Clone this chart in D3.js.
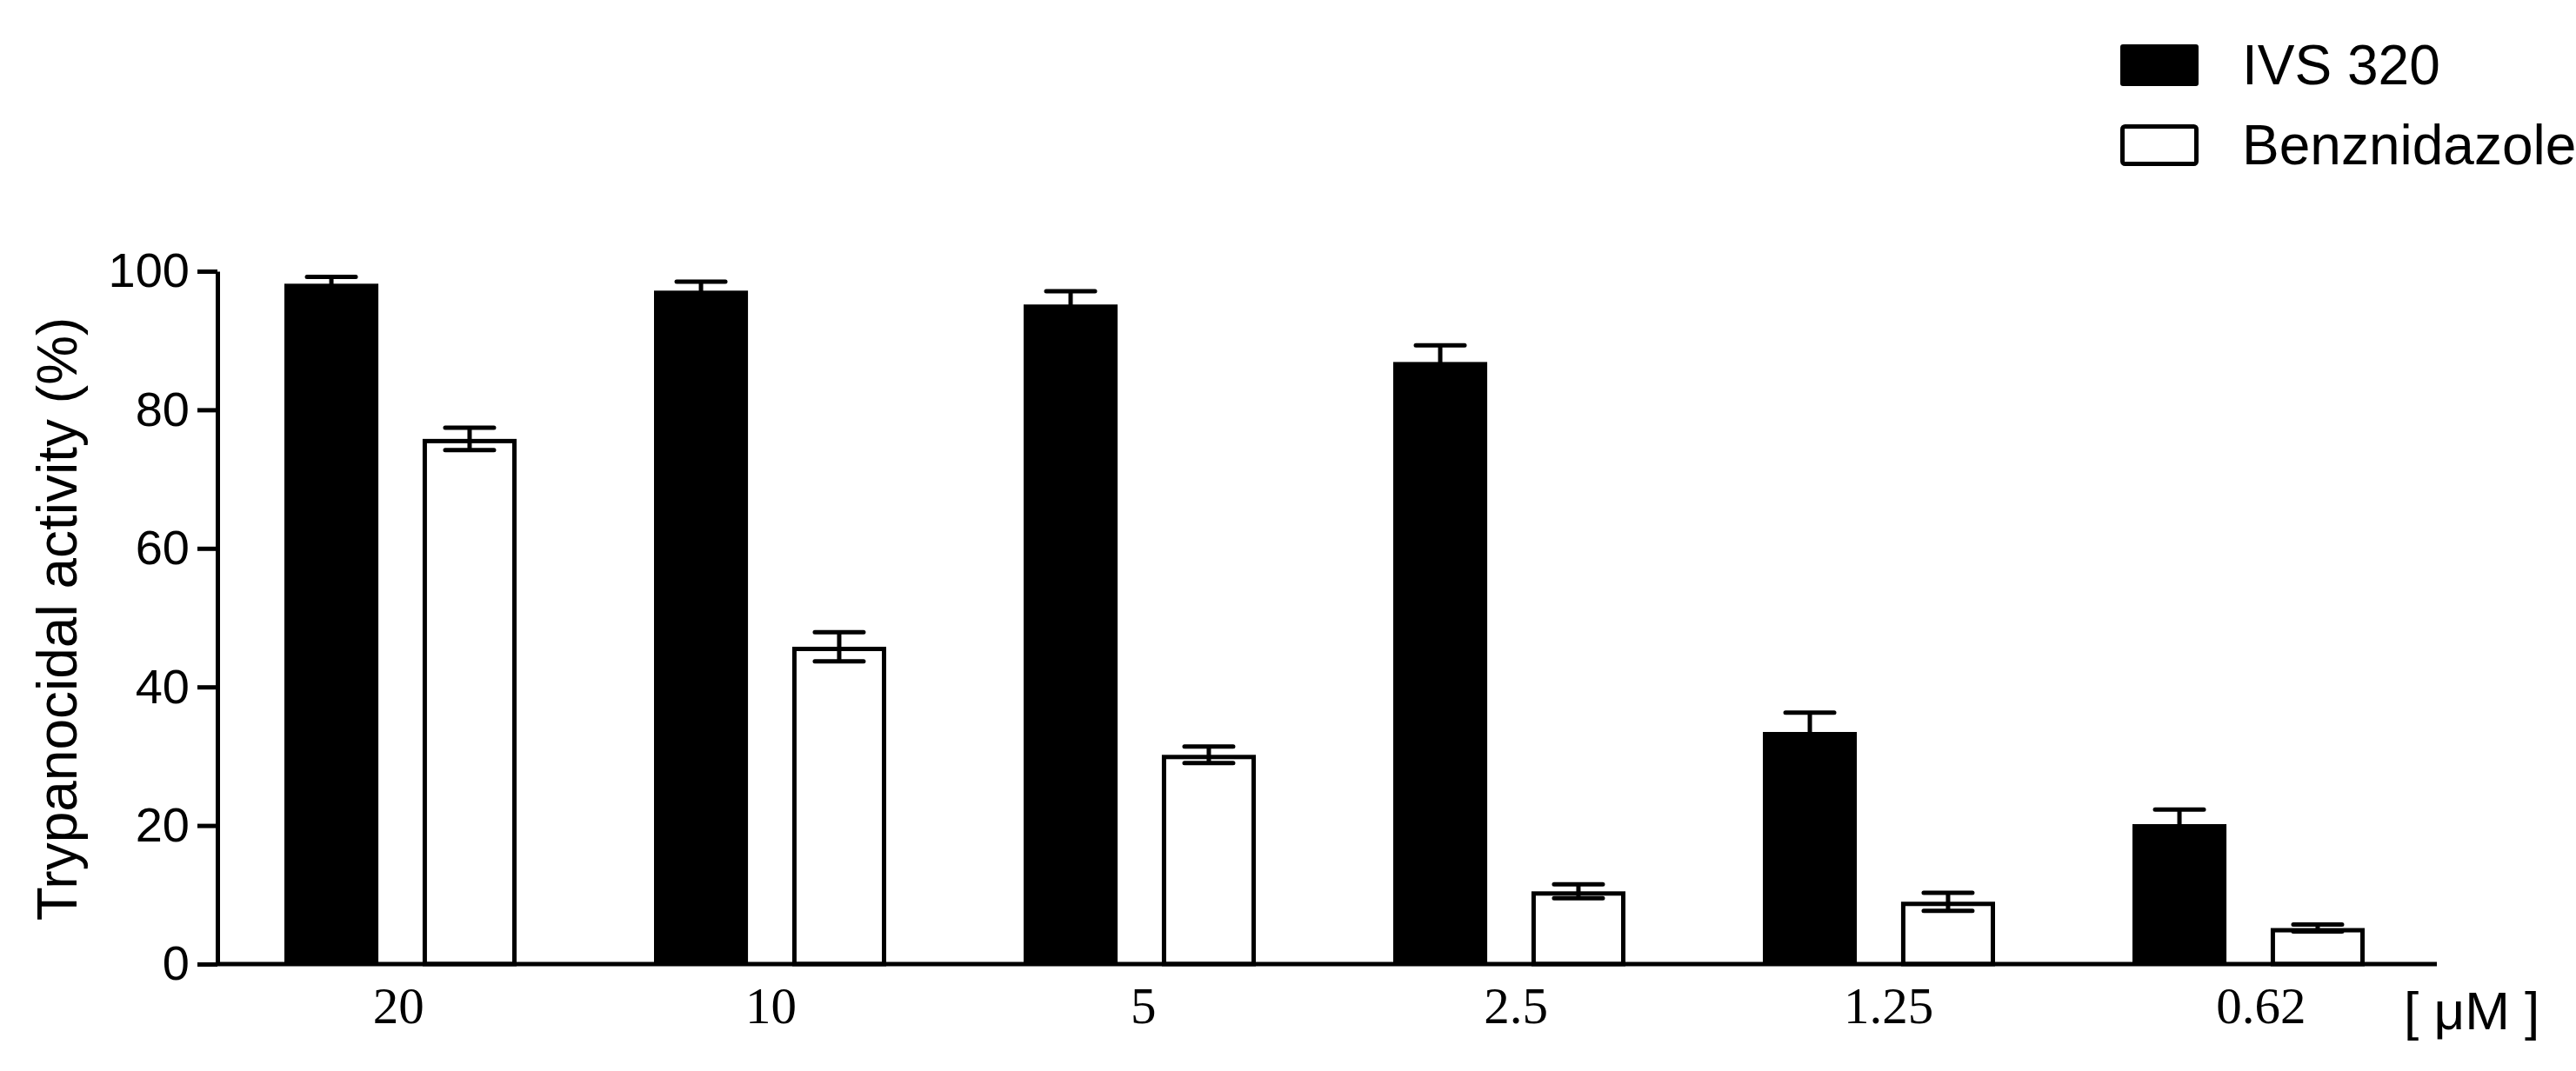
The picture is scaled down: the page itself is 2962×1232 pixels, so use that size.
<!DOCTYPE html>
<html>
<head>
<meta charset="utf-8">
<title>Trypanocidal activity</title>
<script src="https://cdn.jsdelivr.net/npm/d3@7"></script>
<style>
	body, html {
		margin: 0;
		background: #fff;
		overflow: hidden;
	}
	.axis path, .axis line {
		stroke: #000;
		stroke-width: 5;
		fill: none;
	}
	.yaxis text {
		font-family: "Liberation Sans", Arial, sans-serif;
		font-size: 56px;
		fill: #000;
	}
	.xlabels text {
		font-family: "Liberation Serif", "Times New Roman", serif;
		font-size: 59px;
		fill: #000;
	}
	.label, .legend text {
		font-family: "Liberation Sans", Arial, sans-serif;
		fill: #000;
	}
	.err {
		stroke: #000;
		stroke-width: 5;
		stroke-linecap: round;
		fill: none;
	}
</style>
</head>
<body>
<div id="chart"></div>
<script>
	// data
	var concs = ["20", "10", "5", "2.5", "1.25", "0.62"];
	var series = ["IVS 320", "Benznidazole"];
	var ivs = [98.2, 97.2, 95.2, 86.9, 33.5, 20.2];
	var ivsErr = [1.0, 1.3, 1.9, 2.4, 2.8, 2.1];
	var benz = [75.8, 45.8, 30.2, 10.5, 9.0, 5.2];
	var benzErr = [1.6, 2.1, 1.2, 1.0, 1.3, 0.5];
	var yTicks = [0, 20, 40, 60, 80, 100];

	var w = 2962, h = 1232;

	var svg = d3.select("#chart").append("svg")
		.attr("width", w)
		.attr("height", h);

	var x0 = d3.scaleBand()
		.domain(concs)
		.range([250, 2800]);

	var x1 = d3.scaleBand()
		.domain(series)
		.range([77, 344])
		.paddingInner(0.32);

	// the concentration labels sit on a slightly wider spacing than the groups
	var xl = d3.scaleBand()
		.domain(concs)
		.range([244, 2814]);

	var y = d3.scaleLinear()
		.domain([0, 100])
		.range([1109, 312]);

	// rows for the bars
	var rows = [];
	concs.forEach(function (c, i) {
		rows.push({ conc: c, s: series[0], v: ivs[i], e: ivsErr[i] });
		rows.push({ conc: c, s: series[1], v: benz[i], e: benzErr[i] });
	});

	var bars = svg.append("g");

	bars.selectAll("rect").data(rows)
		.enter().append("rect")
		.attr("x", function (d) {
			return x0(d.conc) + x1(d.s) + (d.s == series[1] ? 2.5 : 0);
		})
		.attr("y", function (d) {
			return y(d.v) + (d.s == series[1] ? 2.5 : 0);
		})
		.attr("width", function (d) {
			return x1.bandwidth() - (d.s == series[1] ? 5 : 0);
		})
		.attr("height", function (d) {
			return y(0) - y(d.v) - (d.s == series[1] ? 2.5 : 0);
		})
		.attr("fill", function (d) {
			return d.s == series[0] ? "#000" : "#fff";
		})
		.attr("stroke", function (d) {
			return d.s == series[0] ? "none" : "#000";
		})
		.attr("stroke-width", 5);

	// error bars
	var capW = 56;
	var errs = svg.append("g");
	errs.selectAll("path").data(rows)
		.enter().append("path")
		.attr("class", "err")
		.attr("d", function (d) {
			var cx = x0(d.conc) + x1(d.s) + x1.bandwidth() / 2;
			var top = y(d.v + d.e),
				bot = y(d.v - d.e);
			return "M" + cx + "," + top + "V" + bot +
				"M" + (cx - capW / 2) + "," + top + "H" + (cx + capW / 2) +
				"M" + (cx - capW / 2) + "," + bot + "H" + (cx + capW / 2);
		});

	// axes
	svg.append("g")
		.attr("class", "axis yaxis")
		.attr("transform", "translate(250,0)")
		.call(d3.axisLeft(y).tickValues(yTicks).tickSize(23).tickSizeOuter(0).tickPadding(9));

	svg.append("g")
		.attr("class", "axis xaxis")
		.attr("transform", "translate(0,1109)")
		.call(d3.axisBottom(x0).tickSize(0).tickFormat(""));

	svg.select(".xaxis .domain").attr("d", "M250,0H2802");

	svg.append("g")
		.attr("class", "xlabels")
		.selectAll("text").data(concs)
		.enter().append("text")
		.attr("x", function (d) { return xl(d) + xl.bandwidth() / 2; })
		.attr("y", 1177)
		.attr("text-anchor", "middle")
		.text(function (d) { return d; });

	svg.append("text")
		.attr("class", "label")
		.attr("transform", "translate(88,712) rotate(-90)")
		.attr("text-anchor", "middle")
		.attr("font-size", 64)
		.text("Trypanocidal activity (%)");

	svg.append("text")
		.attr("class", "label")
		.attr("x", 2764)
		.attr("y", 1184)
		.attr("font-size", 62)
		.text("[ μM ]");

	// legend
	var legend = svg.append("g").attr("class", "legend");
	var lg = legend.selectAll("g").data(series)
		.enter().append("g")
		.attr("transform", function (d, i) {
			return "translate(2438," + (51 + i * 92) + ")";
		});
	lg.append("rect")
		.attr("x", function (d, i) { return i ? 2.5 : 0; })
		.attr("y", function (d, i) { return i ? 2.5 : 0; })
		.attr("width", function (d, i) { return i ? 85 : 90; })
		.attr("height", function (d, i) { return i ? 43 : 48; })
		.attr("rx", 3)
		.attr("fill", function (d, i) { return i ? "#fff" : "#000"; })
		.attr("stroke", function (d, i) { return i ? "#000" : "none"; })
		.attr("stroke-width", 5);
	lg.append("text")
		.attr("x", 140)
		.attr("y", 46)
		.attr("font-size", 64)
		.text(function (d) { return d; });
</script>
</body>
</html>
